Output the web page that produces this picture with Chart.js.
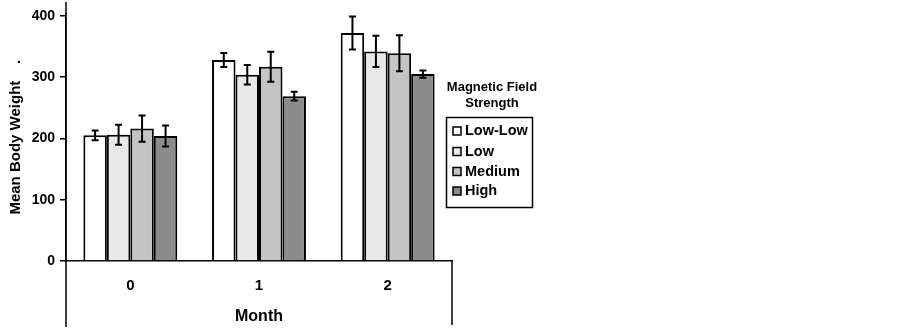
<!DOCTYPE html>
<html>
<head>
<meta charset="utf-8">
<script src="https://cdn.jsdelivr.net/npm/chart.js@4/dist/chart.umd.min.js"></script>
<style>
  html, body { margin: 0; padding: 0; background: #fff; }
</style>
</head>
<body>
<canvas id="chart-body-weight" width="902" height="329"></canvas>
<script>
const MONTHS = ["0", "1", "2"];
const LOW_LOW = [205, 328, 372];
const LOW_LOW_ERR = [8, 11.5, 27];
const LOW = [206, 304, 342];
const LOW_ERR = [16.5, 16, 25.5];
const MEDIUM = [216, 317, 339];
const MEDIUM_ERR = [21.5, 24.5, 29.5];
const HIGH = [204, 269, 305];
const HIGH_ERR = [17, 7, 6];
const Y_TICKS = [0, 100, 200, 300, 400];

const FONT = "'Liberation Sans', Arial, sans-serif";

//------------------------------------------------------------
// Error bars, drawn on the bars via the y scale
//------------------------------------------------------------
const errorBars = {
	id: "errorBars",
	afterDatasetsDraw(chart) {
		const { ctx } = chart;
		const y = chart.scales.y;
		ctx.save();
		ctx.strokeStyle = "#000";
		ctx.lineWidth = 2;
		chart.data.datasets.forEach((ds, i) => {
			chart.getDatasetMeta(i).data.forEach((bar, j) => {
				const v = ds.data[j];
				const e = ds.errors[j];
				const top = y.getPixelForValue(v + e);
				const bot = y.getPixelForValue(v - e);
				ctx.beginPath();
				ctx.moveTo(bar.x, top);
				ctx.lineTo(bar.x, bot);
				ctx.moveTo(bar.x - 3.5, top);
				ctx.lineTo(bar.x + 3.5, top);
				ctx.moveTo(bar.x - 3.5, bot);
				ctx.lineTo(bar.x + 3.5, bot);
				ctx.stroke();
			});
		});
		ctx.restore();
	},
};

//------------------------------------------------------------
// Axis extensions and the boxed legend
//------------------------------------------------------------
const frame = {
	id: "frame",
	afterDraw(chart) {
		const { ctx, chartArea } = chart;
		ctx.save();
		ctx.strokeStyle = "#000";
		ctx.lineWidth = 1.5;
		ctx.beginPath();
		ctx.moveTo(chartArea.left, 2);
		ctx.lineTo(chartArea.left, 327);
		ctx.moveTo(chartArea.right, chartArea.bottom);
		ctx.lineTo(chartArea.right, 325);
		ctx.stroke();

		// legend
		ctx.fillStyle = "#000";
		ctx.textAlign = "center";
		ctx.textBaseline = "middle";
		ctx.font = "bold 13px " + FONT;
		ctx.fillText("Magnetic Field", 492, 87);
		ctx.fillText("Strength", 492, 103);

		ctx.strokeRect(446.5, 117.5, 86, 90);
		ctx.textAlign = "left";
		ctx.font = "bold 14.5px " + FONT;
		const rows = [131, 151.5, 171.5, 191];
		chart.data.datasets.forEach((ds, i) => {
			ctx.fillStyle = ds.backgroundColor;
			ctx.fillRect(453, rows[i] - 4, 8, 8);
			ctx.strokeRect(453, rows[i] - 4, 8, 8);
			ctx.fillStyle = "#000";
			ctx.fillText(ds.label, 465, rows[i]);
		});
		ctx.restore();
	},
};

const barStyle = {
	borderColor: "#000",
	borderWidth: 2,
	barPercentage: 1,
	categoryPercentage: 0.73,
};

const CHART_DATA = {
	labels: MONTHS,
	datasets: [
		{ label: "Low-Low", data: LOW_LOW, errors: LOW_LOW_ERR, backgroundColor: "#ffffff", ...barStyle },
		{ label: "Low", data: LOW, errors: LOW_ERR, backgroundColor: "#e9e9e9", ...barStyle },
		{ label: "Medium", data: MEDIUM, errors: MEDIUM_ERR, backgroundColor: "#c4c4c4", ...barStyle },
		{ label: "High", data: HIGH, errors: HIGH_ERR, backgroundColor: "#8c8c8c", ...barStyle },
	],
};

const CHART_CONFIG = {
	type: "bar",
	data: CHART_DATA,
	plugins: [errorBars, frame],
	options: {
		responsive: false,
		animation: false,
		devicePixelRatio: 1,
		layout: {
			padding: { top: 5, right: 450, bottom: 0, left: 0 },
		},
		plugins: {
			legend: { display: false },
			title: { display: false },
			tooltip: { enabled: false },
		},
		scales: {
			x: {
				grid: { display: false },
				border: { display: true, color: "#000", width: 1.5 },
				ticks: {
					color: "#000",
					padding: 8,
					font: { family: FONT, size: 15, weight: "bold" },
				},
				title: {
					display: true,
					text: "Month",
					color: "#000",
					padding: { top: 0, bottom: 3 },
					font: { family: FONT, size: 16, weight: "bold" },
				},
				afterFit: (scale) => {
					scale.height = 68;
				},
			},
			y: {
				min: 0,
				max: 404,
				afterBuildTicks: (scale) => {
					scale.ticks = Y_TICKS.map((v) => ({ value: v }));
				},
				grid: {
					drawOnChartArea: false,
					drawTicks: true,
					tickLength: 6,
					color: "#000",
					lineWidth: 1.5,
				},
				border: { display: true, color: "#000", width: 1.5 },
				ticks: {
					color: "#000",
					padding: 5,
					font: { family: FONT, size: 14, weight: "bold" },
				},
				title: {
					display: true,
					text: "Mean Body Weight    .",
					color: "#000",
					padding: { top: 7, bottom: 4 },
					font: { family: FONT, size: 15, weight: "bold" },
				},
				afterFit: (scale) => {
					scale.width = 66;
				},
			},
		},
	},
};

new Chart(document.getElementById("chart-body-weight"), CHART_CONFIG);
</script>
</body>
</html>
